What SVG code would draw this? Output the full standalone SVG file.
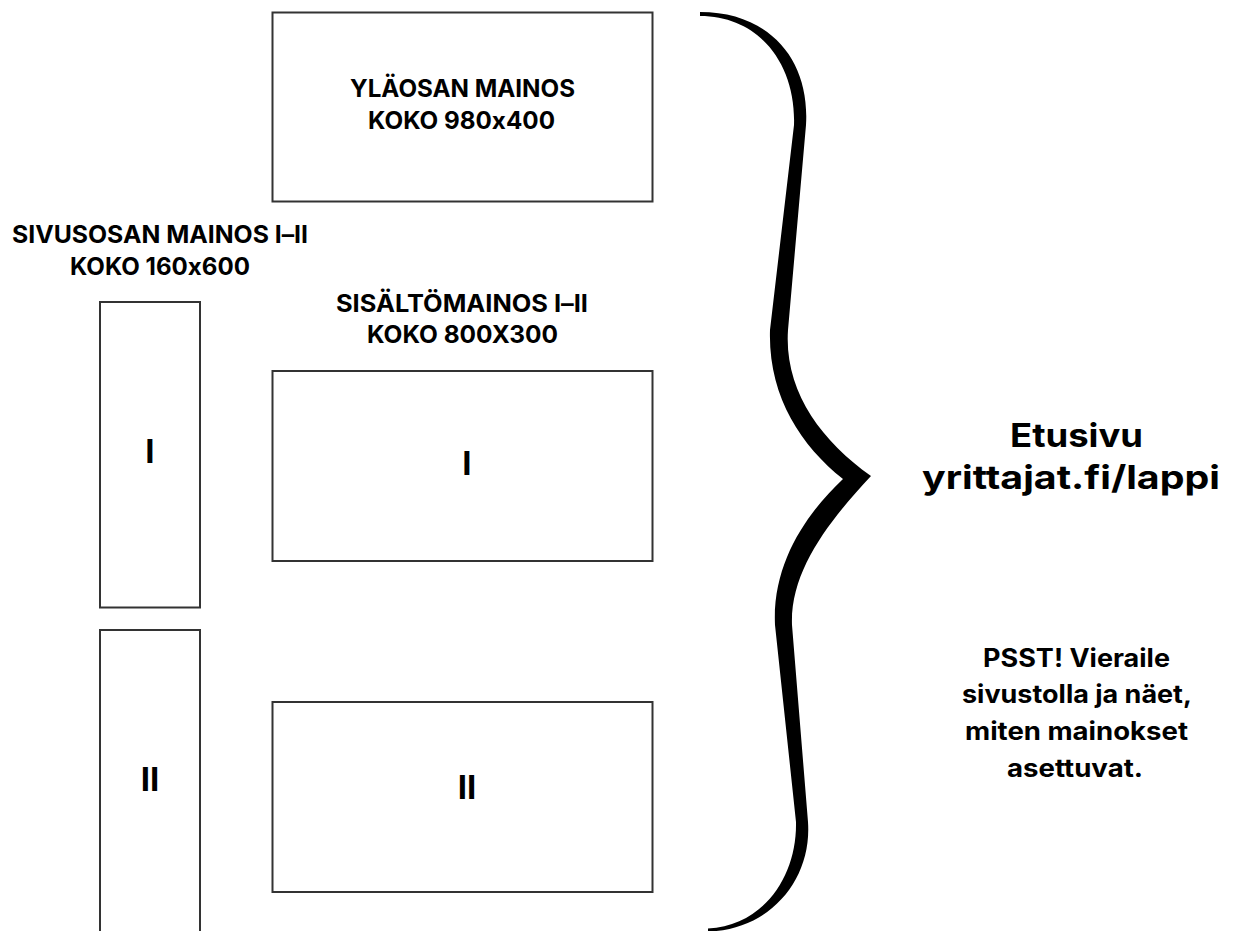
<svg xmlns="http://www.w3.org/2000/svg" width="1233" height="931" viewBox="0 0 1233 931">
  <style>
    .box { fill: #ffffff; stroke: #333333; stroke-width: 2; }
    .t { font-family: Inter, "Liberation Sans", sans-serif; font-weight: 700; fill: #000000; text-anchor: middle; font-feature-settings: "calt" 0; font-variant-ligatures: no-contextual; }
    .hdr { font-size: 24px; }
    .num { font-size: 33px; }
    .big { font-size: 33px; }
    .note { font-size: 25px; }
  </style>
  <rect width="1233" height="931" fill="#ffffff"/>
  <g id="top-ad">
    <rect class="box" x="272.5" y="12.5" width="380" height="189"/>
    <text class="t hdr" x="462.5" y="97" textLength="225" lengthAdjust="spacingAndGlyphs">YLÄOSAN MAINOS</text>
    <text class="t hdr" x="461.5" y="129" textLength="187" lengthAdjust="spacingAndGlyphs">KOKO 980x400</text>
  </g>
  <g id="side-label">
    <text class="t hdr" x="160" y="243" textLength="296" lengthAdjust="spacingAndGlyphs">SIVUSOSAN MAINOS I–II</text>
    <text class="t hdr" x="160" y="275" textLength="180" lengthAdjust="spacingAndGlyphs">KOKO 160x600</text>
  </g>
  <g id="side-ad-1">
    <rect class="box" x="100" y="302" width="100" height="305.5"/>
    <text class="t num" x="150" y="463">I</text>
  </g>
  <g id="side-ad-2">
    <rect class="box" x="100" y="630" width="100" height="320"/>
    <text class="t num" x="150" y="791">II</text>
  </g>
  <g id="content-label">
    <text class="t hdr" x="462" y="312" textLength="252" lengthAdjust="spacingAndGlyphs">SISÄLTÖMAINOS I–II</text>
    <text class="t hdr" x="462.5" y="343" textLength="191" lengthAdjust="spacingAndGlyphs">KOKO 800X300</text>
  </g>
  <g id="content-ad-1">
    <rect class="box" x="272.5" y="371" width="380" height="190"/>
    <text class="t num" x="467" y="475">I</text>
  </g>
  <g id="content-ad-2">
    <rect class="box" x="272.5" y="702" width="380" height="190"/>
    <text class="t num" x="467" y="799">II</text>
  </g>
  <g id="connectors">
    <path id="brace" fill="#000000" d="M 700,12 C 770,12 810,60 806,125 L 788,330 C 784,390 820,440 871,476 C 830,520 790,570 792,625 L 808,822 C 812,880 770,930 708,931.5 L 708,928.5 C 765,925 797,875 796,822 L 775,625 C 772,560 810,510 843,479 C 800,445 768,395 770,330 L 794,125 C 796,65 760,16 700,16 Z"/>
  </g>
  <g id="title">
    <text class="t big" x="1076.5" y="447" textLength="133" lengthAdjust="spacingAndGlyphs">Etusivu</text>
    <text class="t big" x="1071" y="489" textLength="298" lengthAdjust="spacingAndGlyphs">yrittajat.fi/lappi</text>
  </g>
  <g id="note">
    <text class="t note" x="1076.5" y="667" textLength="187" lengthAdjust="spacingAndGlyphs">PSST! Vieraile</text>
    <text class="t note" x="1077" y="703" textLength="230" lengthAdjust="spacingAndGlyphs">sivustolla ja näet,</text>
    <text class="t note" x="1076.5" y="740" textLength="223" lengthAdjust="spacingAndGlyphs">miten mainokset</text>
    <text class="t note" x="1075" y="777" textLength="136" lengthAdjust="spacingAndGlyphs">asettuvat.</text>
  </g>
</svg>
